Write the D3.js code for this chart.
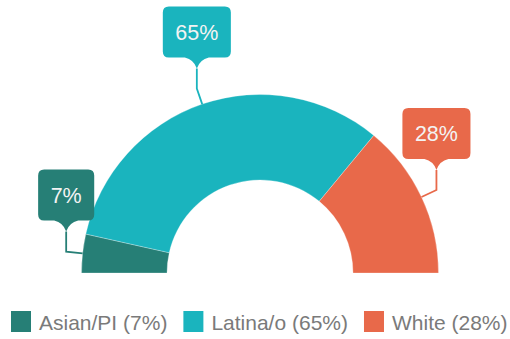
<!DOCTYPE html>
<html>
<head>
<meta charset="utf-8">
<script src="https://cdn.jsdelivr.net/npm/d3@7"></script>
<style>
  html, body { margin: 0; padding: 0; background: #ffffff; }
  svg { display: block; font-family: "Liberation Sans", Arial, Helvetica, sans-serif; }
</style>
</head>
<body>
<svg id="chart" width="510" height="339"></svg>
<script>
// Share of students by group (percent)
const categories = ["Asian/PI", "Latina/o", "White"];
const values = [7, 65, 28];
const colors = ["#267f76", "#1ab4be", "#e8694a"];

const svg = d3.select("#chart");
const cx = 260, cy = 273;
const outerR = 178.5, innerR = 93;

// Half-donut: angles run from -90° (left) to +90° (right)
const pie = d3.pie()
  .sort(null)
  .value(d => d)
  .startAngle(-Math.PI / 2)
  .endAngle(Math.PI / 2);

const arcs = pie(values);
const arc = d3.arc().innerRadius(innerR).outerRadius(outerR);

const g = svg.append("g").attr("transform", `translate(${cx},${cy})`);

g.selectAll("path.slice")
  .data(arcs)
  .enter().append("path")
  .attr("class", "slice")
  .attr("d", arc)
  .attr("fill", (d, i) => colors[i])
  .attr("stroke", "rgba(255,255,255,0.35)")
  .attr("stroke-width", 0.8);

// Callout labels: leader from outer edge, elbow, then up to a rounded box with a pointer
const boxH = 51, padX = 12.5, rr = 6, tipH = 11, tipW = 9;
const labelGroup = svg.append("g");

arcs.forEach((d, i) => {
  const a = (d.startAngle + d.endAngle) / 2;
  const px = cx + outerR * Math.sin(a), py = cy - outerR * Math.cos(a);
  const ex = cx + (outerR + 16.5) * Math.sin(a), ey = cy - (outerR + 16.5) * Math.cos(a);
  const bx = ex;                 // box centre x
  const tipY = ey - 20;          // pointer tip y
  const boxBottom = tipY - tipH;
  const boxTop = boxBottom - boxH;

  labelGroup.append("path")
    .attr("d", `M${px},${py} L${bx},${ey} L${bx},${tipY}`)
    .attr("fill", "none")
    .attr("stroke", colors[i])
    .attr("stroke-width", 1.8);

  const label = values[i] + "%";
  const txt = labelGroup.append("text")
    .attr("x", bx)
    .attr("y", boxTop + boxH / 2 + 7.8)
    .attr("text-anchor", "middle")
    .attr("font-size", 21.5)
    .attr("fill", "#f3f3f3")
    .text(label);
  const tw = txt.node().getComputedTextLength();
  const w = tw + padX * 2;
  const x0 = bx - w / 2, x1 = bx + w / 2;

  const p = d3.path();
  p.moveTo(x0 + rr, boxTop);
  p.lineTo(x1 - rr, boxTop);
  p.quadraticCurveTo(x1, boxTop, x1, boxTop + rr);
  p.lineTo(x1, boxBottom - rr);
  p.quadraticCurveTo(x1, boxBottom, x1 - rr, boxBottom);
  p.lineTo(bx + tipW + 3, boxBottom);
  p.quadraticCurveTo(bx + 3, boxBottom + 2, bx, tipY);
  p.quadraticCurveTo(bx - 3, boxBottom + 2, bx - tipW - 3, boxBottom);
  p.lineTo(x0 + rr, boxBottom);
  p.quadraticCurveTo(x0, boxBottom, x0, boxBottom - rr);
  p.lineTo(x0, boxTop + rr);
  p.quadraticCurveTo(x0, boxTop, x0 + rr, boxTop);
  p.closePath();

  labelGroup.insert("path", "text")
    .attr("d", p.toString())
    .attr("fill", colors[i]);
});

// Legend
const legend = svg.append("g").attr("transform", "translate(11,311)");
let lx = 0;
categories.forEach((c, i) => {
  const item = legend.append("g").attr("transform", `translate(${lx},0)`);
  item.append("rect")
    .attr("width", 20).attr("height", 21)
    .attr("fill", colors[i]);
  const t = item.append("text")
    .attr("x", 28).attr("y", 18.5)
    .attr("font-size", 21)
    .attr("fill", "#7a7a7a")
    .text(`${c} (${values[i]}%)`);
  lx += 28 + t.node().getComputedTextLength() + 16;
});
</script>
</body>
</html>
